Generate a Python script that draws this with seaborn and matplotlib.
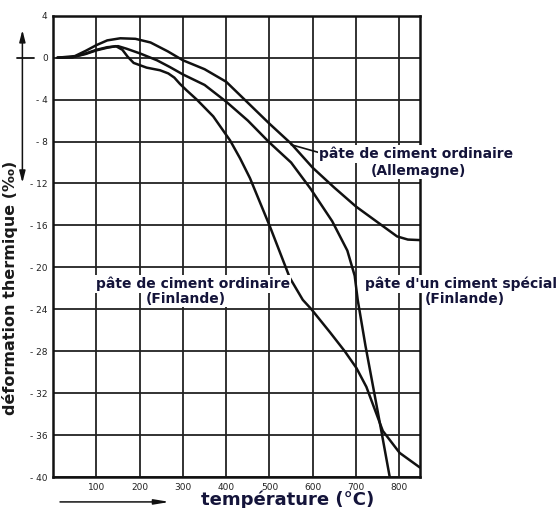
import matplotlib
matplotlib.use("Agg")
import matplotlib.pyplot as plt
import pandas as pd
import seaborn as sns

# -------------------------------------------------
# data
# -------------------------------------------------
temp_allemagne = [10, 50, 75, 100, 125, 155, 190, 225, 265, 300, 350, 400, 450, 500,
                  550, 600, 650, 700, 750, 795, 820, 848]
def_allemagne = [0, 0.15, 0.65, 1.2, 1.65, 1.85, 1.8, 1.45, 0.6, -0.25, -1.1, -2.3, -4.3, -6.3,
                 -8.2, -10.5, -12.4, -14.2, -15.7, -17.05, -17.35, -17.4]

temp_finlande = [10, 45, 75, 100, 125, 145, 160, 172, 186, 216, 247, 266, 280, 293, 308, 332,
                 370, 409, 432, 455, 501, 547, 577, 597, 640, 674, 701, 724, 762, 801, 848]
def_finlande = [0, 0.05, 0.35, 0.7, 0.95, 1.1, 0.75, 0.1, -0.5, -0.95, -1.2, -1.5, -1.9, -2.5,
                -3.1, -4.0, -5.6, -7.9, -9.6, -11.5, -16.1, -21.0, -23.1, -24.0, -26.2, -28.0,
                -29.6, -31.4, -35.6, -37.7, -39.1]

temp_special = [10, 45, 75, 100, 125, 150, 170, 201, 240, 270, 300, 350, 400, 450, 500, 550,
                595, 645, 680, 697, 704, 722, 741, 759, 778]
def_special = [0, 0.05, 0.4, 0.75, 1.0, 1.1, 0.85, 0.4, -0.25, -0.9, -1.6, -2.6, -4.2, -6.0,
               -8.1, -10.0, -12.5, -15.6, -18.4, -20.8, -23.1, -27.5, -31.7, -35.7, -40.0]

x_ticks = [100, 200, 300, 400, 500, 600, 700, 800]
y_ticks = [4, 0, -4, -8, -12, -16, -20, -24, -28, -32, -36, -40]
y_tick_labels = ["4", "0", "- 4", "- 8", "- 12", "- 16", "- 20", "- 24", "- 28", "- 32", "- 36", "- 40"]

series_names = ["allemagne", "finlande", "special"]

df = pd.concat([
    pd.DataFrame({"temperature": temp_allemagne, "deformation": def_allemagne, "serie": "allemagne"}),
    pd.DataFrame({"temperature": temp_finlande, "deformation": def_finlande, "serie": "finlande"}),
    pd.DataFrame({"temperature": temp_special, "deformation": def_special, "serie": "special"}),
])

# -------------------------------------------------
# figure
# -------------------------------------------------
sns.set_style("white")
plt.rcParams["font.family"] = ["DejaVu Sans"]

fig = plt.figure(figsize=(5.6, 5.08), dpi=100)
ax = fig.add_axes([0.095, 0.061, 0.655, 0.908])

sns.lineplot(data=df, x="temperature", y="deformation", hue="serie",
             palette={s: "#111111" for s in series_names}, estimator=None, sort=False,
             legend=False, lw=1.8, ax=ax)

ax.set_xlim(0, 848)
ax.set_ylim(-40, 4)
ax.set_xticks(x_ticks)
ax.set_xticklabels([str(t) for t in x_ticks])
ax.set_yticks(y_ticks)
ax.set_yticklabels(y_tick_labels)
ax.tick_params(length=0, labelsize=6.5, colors="#222222", pad=4)
ax.grid(True, color="#222222", lw=1.3)
for sp in ax.spines.values():
    sp.set_color("#111111")
    sp.set_linewidth(1.8)

ax.set_xlabel("")
ax.set_ylabel("déformation thermique (‰)", fontsize=11.5, fontweight="bold", color="#1a1a1a")
ax.yaxis.set_label_coords(-0.097, 0.41)

ax.text(0.638, -0.05, "température (°C)", transform=ax.transAxes, ha="center", va="center",
        fontsize=13, fontweight="bold", color="#14143a")

# arrows along the axes
ax.annotate("", xy=(-0.084, -12.2), xytext=(-0.084, 2.9),
            xycoords=ax.get_yaxis_transform(), textcoords=ax.get_yaxis_transform(),
            arrowprops=dict(arrowstyle="<|-|>,head_length=0.7,head_width=0.18", color="#111111", lw=1.1),
            annotation_clip=False)
ax.plot([-0.1, -0.052], [0, 0], transform=ax.get_yaxis_transform(), color="#111111", lw=1.3, clip_on=False)
ax.annotate("", xy=(0.325, -0.054), xytext=(0.011, -0.054),
            xycoords="axes fraction", textcoords="axes fraction",
            arrowprops=dict(arrowstyle="-|>,head_length=0.9,head_width=0.15", color="#111111", lw=1.1),
            annotation_clip=False)

# curve labels, one text per line so the white boxes stay tight
box = dict(facecolor="white", edgecolor="none", pad=1.0)
lab_color = "#14143a"
lab = dict(ha="center", va="center", fontsize=10, fontweight="bold", color=lab_color,
           bbox=box, clip_on=False)

ax.annotate("pâte de ciment ordinaire", xy=(550, -8.3), xytext=(840, -9.2),
            annotation_clip=False,
            arrowprops=dict(arrowstyle="-", color="#111111", lw=1.2, shrinkA=0, shrinkB=0,
                            relpos=(0.0, 0.6)), **lab)
ax.text(845, -10.8, "(Allemagne)", **lab)

ax.text(323, -21.6, "pâte de ciment ordinaire", **lab)
ax.text(307, -23.0, "(Finlande)", **lab)

ax.text(942, -21.6, "pâte d'un ciment spécial", **lab)
ax.text(951, -23.0, "(Finlande)", **lab)

fig.savefig("out.png", dpi=100, facecolor="white")
